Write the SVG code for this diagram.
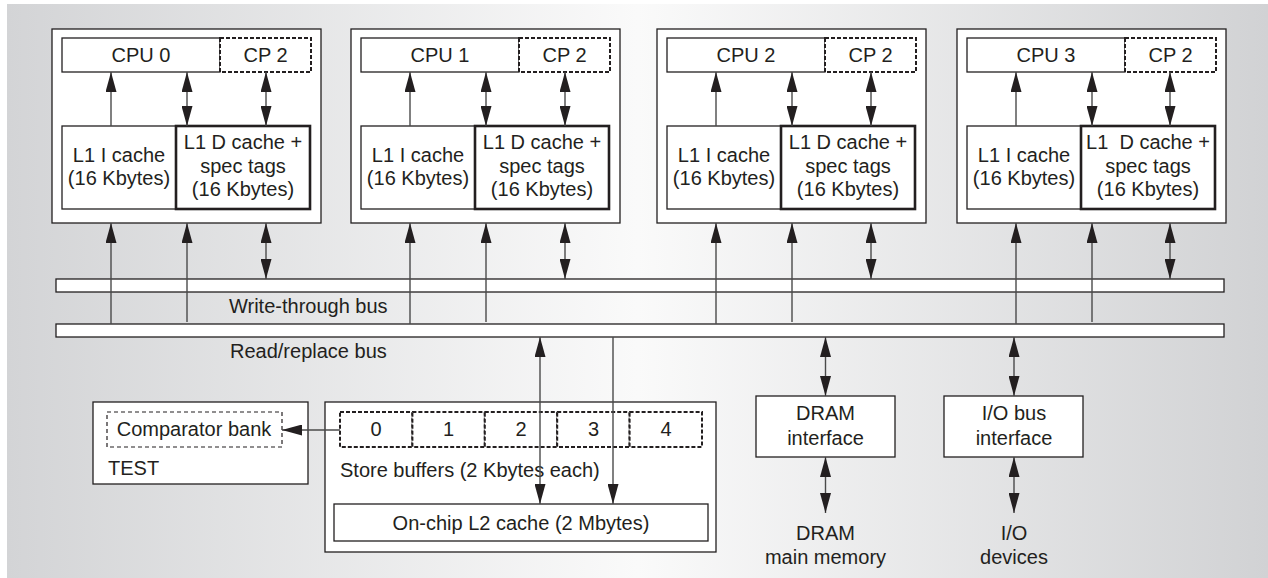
<svg xmlns="http://www.w3.org/2000/svg" width="1268" height="578" viewBox="0 0 1268 578">
<defs>
<linearGradient id="bg" x1="0" y1="0" x2="1" y2="0">
<stop offset="0" stop-color="#d3d4d6"/>
<stop offset="0.5" stop-color="#fafafa"/>
<stop offset="1" stop-color="#d1d2d4"/>
</linearGradient>
<marker id="ah" viewBox="0 0 20 11" refX="20" refY="5.5" markerWidth="20" markerHeight="11" markerUnits="userSpaceOnUse" orient="auto-start-reverse">
<path d="M0,0 L20,5.5 L0,11 Z" fill="#231f20"/>
</marker>
<style>
.box{fill:#fff;stroke:#231f20;stroke-width:1.3}
.thick{fill:#fff;stroke:#231f20;stroke-width:2.6}
.dash{fill:#fff;stroke:#231f20;stroke-width:2;stroke-dasharray:4 2}
.dashthin{fill:#fff;stroke:#231f20;stroke-width:1.2;stroke-dasharray:4 3}
text{font-family:"Liberation Sans",Arial,sans-serif;font-size:20px;fill:#231f20}
.c{text-anchor:middle}
.ln{stroke:#4a4a4a;stroke-width:1.4;fill:none}
.one{marker-end:url(#ah)}
.two{marker-start:url(#ah);marker-end:url(#ah)}
</style>
</defs>
<rect x="7" y="4" width="1261" height="574" fill="url(#bg)"/>

<g id="cpu0" transform="translate(52,0)">
<rect class="box" x="0" y="29" width="269" height="194"/>
<rect class="box" x="10" y="38" width="158" height="34"/>
<rect class="dash" x="168" y="38" width="91" height="34"/>
<rect class="box" x="10" y="126" width="114" height="83"/>
<rect class="thick" x="124" y="126" width="134" height="83"/>
<text class="c" x="89" y="62">CPU 0</text>
<text class="c" x="213.5" y="62">CP 2</text>
<text class="c" x="67" y="162">L1 I cache</text>
<text class="c" x="67" y="185">(16 Kbytes)</text>
<text class="c" x="191" y="149">L1 D cache +</text>
<text class="c" x="191" y="173">spec tags</text>
<text class="c" x="191" y="196">(16 Kbytes)</text>
</g>
<g id="cpu1" transform="translate(351,0)">
<rect class="box" x="0" y="29" width="269" height="194"/>
<rect class="box" x="10" y="38" width="158" height="34"/>
<rect class="dash" x="168" y="38" width="91" height="34"/>
<rect class="box" x="10" y="126" width="114" height="83"/>
<rect class="thick" x="124" y="126" width="134" height="83"/>
<text class="c" x="89" y="62">CPU 1</text>
<text class="c" x="213.5" y="62">CP 2</text>
<text class="c" x="67" y="162">L1 I cache</text>
<text class="c" x="67" y="185">(16 Kbytes)</text>
<text class="c" x="191" y="149">L1 D cache +</text>
<text class="c" x="191" y="173">spec tags</text>
<text class="c" x="191" y="196">(16 Kbytes)</text>
</g>
<g id="cpu2" transform="translate(657,0)">
<rect class="box" x="0" y="29" width="269" height="194"/>
<rect class="box" x="10" y="38" width="158" height="34"/>
<rect class="dash" x="168" y="38" width="91" height="34"/>
<rect class="box" x="10" y="126" width="114" height="83"/>
<rect class="thick" x="124" y="126" width="134" height="83"/>
<text class="c" x="89" y="62">CPU 2</text>
<text class="c" x="213.5" y="62">CP 2</text>
<text class="c" x="67" y="162">L1 I cache</text>
<text class="c" x="67" y="185">(16 Kbytes)</text>
<text class="c" x="191" y="149">L1 D cache +</text>
<text class="c" x="191" y="173">spec tags</text>
<text class="c" x="191" y="196">(16 Kbytes)</text>
</g>
<g id="cpu3" transform="translate(957,0)">
<rect class="box" x="0" y="29" width="269" height="194"/>
<rect class="box" x="10" y="38" width="158" height="34"/>
<rect class="dash" x="168" y="38" width="91" height="34"/>
<rect class="box" x="10" y="126" width="114" height="83"/>
<rect class="thick" x="124" y="126" width="134" height="83"/>
<text class="c" x="89" y="62">CPU 3</text>
<text class="c" x="213.5" y="62">CP 2</text>
<text class="c" x="67" y="162">L1 I cache</text>
<text class="c" x="67" y="185">(16 Kbytes)</text>
<text class="c" x="191" y="149">L1&#160; D cache +</text>
<text class="c" x="191" y="173">spec tags</text>
<text class="c" x="191" y="196">(16 Kbytes)</text>
</g>

<g id="write-through-bus">
<rect class="box" x="56" y="279" width="1168" height="13"/>
<text x="229" y="313">Write-through bus</text>
</g>
<g id="read-replace-bus">
<rect class="box" x="56" y="324" width="1168" height="13"/>
<text x="230" y="358">Read/replace bus</text>
</g>

<g id="test">
<rect class="box" x="93" y="402" width="215" height="82"/>
<rect class="dashthin" x="107" y="412" width="175" height="35"/>
<text class="c" x="194" y="436">Comparator bank</text>
<text x="108" y="475">TEST</text>
</g>

<g id="store-l2">
<rect class="box" x="325" y="402" width="391" height="150"/>
<rect class="dash" x="340" y="412" width="72.4" height="35"/>
<rect class="dash" x="412.4" y="412" width="72.4" height="35"/>
<rect class="dash" x="484.8" y="412" width="72.4" height="35"/>
<rect class="dash" x="557.2" y="412" width="72.4" height="35"/>
<rect class="dash" x="629.6" y="412" width="72.4" height="35"/>
<text class="c" x="376" y="436">0</text>
<text class="c" x="448.5" y="436">1</text>
<text class="c" x="521" y="436">2</text>
<text class="c" x="593.5" y="436">3</text>
<text class="c" x="666" y="436">4</text>
<text x="340" y="477">Store buffers (2 Kbytes each)</text>
<rect class="box" x="334" y="504" width="374" height="37"/>
<text class="c" x="521" y="529.5">On-chip L2 cache (2 Mbytes)</text>
</g>

<g id="dram">
<rect class="box" x="756" y="396" width="139" height="61"/>
<text class="c" x="825.5" y="420">DRAM</text>
<text class="c" x="825.5" y="445">interface</text>
<text class="c" x="825.5" y="540">DRAM</text>
<text class="c" x="825.5" y="564">main memory</text>
</g>
<g id="io">
<rect class="box" x="944" y="396" width="139" height="61"/>
<text class="c" x="1014" y="420">I/O bus</text>
<text class="c" x="1014" y="445">interface</text>
<text class="c" x="1014" y="540">I/O</text>
<text class="c" x="1014" y="564">devices</text>
</g>

<g id="connectors">
<!-- CPU 0 -->
<line class="ln one" x1="111" y1="126" x2="111" y2="72"/>
<line class="ln two" x1="187" y1="72" x2="187" y2="126"/>
<line class="ln two" x1="266" y1="72" x2="266" y2="126"/>
<line class="ln one" x1="111" y1="324" x2="111" y2="223"/>
<line class="ln one" x1="187" y1="322" x2="187" y2="223"/>
<line class="ln two" x1="266" y1="223" x2="266" y2="279"/>
<!-- CPU 1 -->
<line class="ln one" x1="410" y1="126" x2="410" y2="72"/>
<line class="ln two" x1="486" y1="72" x2="486" y2="126"/>
<line class="ln two" x1="565" y1="72" x2="565" y2="126"/>
<line class="ln one" x1="410" y1="324" x2="410" y2="223"/>
<line class="ln one" x1="486" y1="322" x2="486" y2="223"/>
<line class="ln two" x1="565" y1="223" x2="565" y2="279"/>
<!-- CPU 2 -->
<line class="ln one" x1="716" y1="126" x2="716" y2="72"/>
<line class="ln two" x1="792" y1="72" x2="792" y2="126"/>
<line class="ln two" x1="871" y1="72" x2="871" y2="126"/>
<line class="ln one" x1="716" y1="324" x2="716" y2="223"/>
<line class="ln one" x1="792" y1="322" x2="792" y2="223"/>
<line class="ln two" x1="871" y1="223" x2="871" y2="279"/>
<!-- CPU 3 -->
<line class="ln one" x1="1016" y1="126" x2="1016" y2="72"/>
<line class="ln two" x1="1092" y1="72" x2="1092" y2="126"/>
<line class="ln two" x1="1170" y1="72" x2="1170" y2="126"/>
<line class="ln one" x1="1016" y1="324" x2="1016" y2="223"/>
<line class="ln one" x1="1092" y1="322" x2="1092" y2="223"/>
<line class="ln two" x1="1170" y1="223" x2="1170" y2="279"/>
<!-- L2 -->
<line class="ln two" x1="540" y1="337" x2="540" y2="504"/>
<line class="ln one" x1="613" y1="337" x2="613" y2="504"/>
<!-- comparator -->
<line class="ln one" x1="340" y1="430" x2="282" y2="430"/>
<!-- DRAM -->
<line class="ln two" x1="825.5" y1="337" x2="825.5" y2="396"/>
<line class="ln two" x1="825.5" y1="457" x2="825.5" y2="513"/>
<!-- IO -->
<line class="ln two" x1="1014" y1="337" x2="1014" y2="396"/>
<line class="ln two" x1="1014" y1="457" x2="1014" y2="513"/>
</g>
</svg>
